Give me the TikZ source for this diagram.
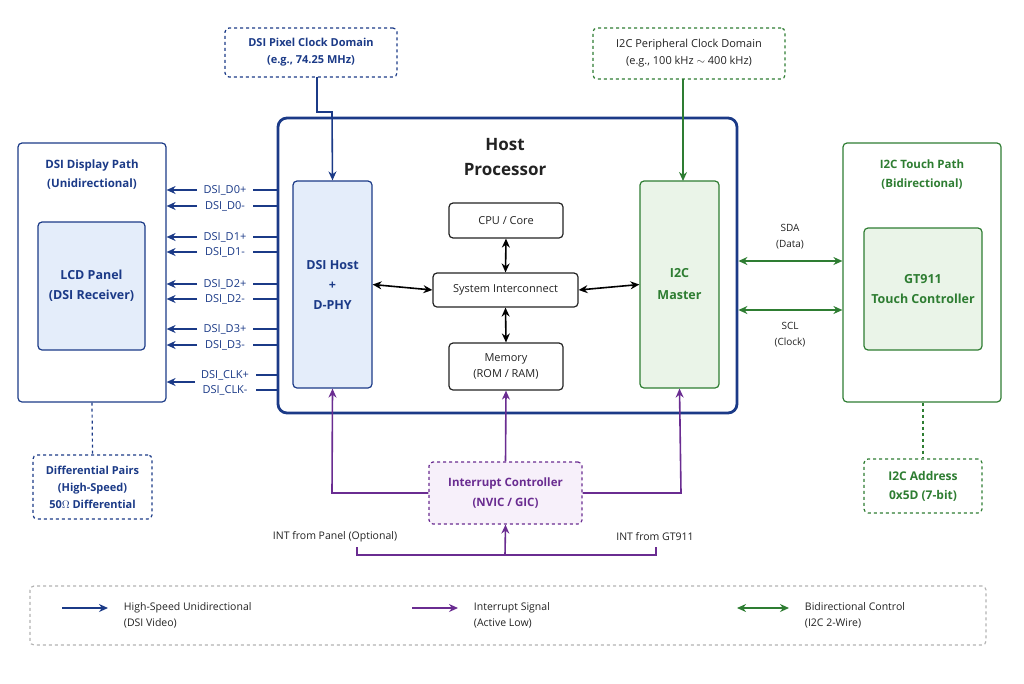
\documentclass[tikz,border=0pt]{standalone}
\usepackage{fontspec}
\setmainfont{Open Sans}
\usetikzlibrary{arrows.meta}
\definecolor{nv}{HTML}{1B3A87}
\definecolor{bf}{HTML}{E4EDFA}
\definecolor{gr}{HTML}{2E7D32}
\definecolor{gf}{HTML}{EAF4E8}
\definecolor{pu}{HTML}{6A2C91}
\definecolor{pf}{HTML}{F7F0FA}
\definecolor{tx}{HTML}{222222}
\begin{document}
\begin{tikzpicture}[x=1pt,y=-1pt,font=\fontsize{11}{14}\selectfont,line width=1.2pt,
 box/.style={draw,rounded corners=4pt,align=center,inner sep=0pt},
 bx/.style 2 args={box,minimum width=#1,minimum height=#2},
 arr/.style={-{Stealth[length=9pt,width=8pt]},line width=1.6pt},
 darr/.style={{Stealth[length=9pt,width=8pt]}-{Stealth[length=9pt,width=8pt]},line width=1.6pt}]
\useasboundingbox (0,0) rectangle (1024,683);
% host
\node[bx={459}{295},draw=nv,line width=2.8pt,rounded corners=9pt] (host) at (507.5,265.5) {};
\node[font=\fontsize{17}{25}\selectfont\bfseries,align=center,text=tx] (ht) at (505,157) {Host\\Processor};
\node[bx={79}{207},draw=nv,fill=bf,text=nv,font=\fontsize{12.5}{20}\selectfont\bfseries] (dsi) at (332.5,284.5) {DSI Host\\+\\D-PHY};
\node[bx={114}{35},draw=tx,text=tx] (cpu) at (506,220.5) {CPU / Core};
\node[bx={145}{34},draw=tx,text=tx] (ic) at (505.5,290) {System Interconnect};
\node[bx={114}{47},draw=tx,text=tx,font=\fontsize{11}{16}\selectfont] (mem) at (506,366.5) {Memory\\(ROM / RAM)};
\node[bx={79}{207},draw=gr,fill=gf,text=gr,font=\fontsize{12.5}{22}\selectfont\bfseries] (i2c) at (679.5,284.5) {I2C\\Master};
% clock domains
\node[bx={172}{49},draw=nv,dashed,text=nv,font=\fontsize{11}{17}\selectfont] (dck) at (311,52.5) {\textbf{DSI Pixel Clock Domain}\\\textbf{(e.g., 74.25 MHz)}};
\node[bx={192}{51},draw=gr,dashed,text=tx,font=\fontsize{11}{17}\selectfont] (ick) at (689,53.5) {I2C Peripheral Clock Domain\\(e.g., 100 kHz $\sim$ 400 kHz)};
\draw[arr,nv] (317,77) -- (317,112) -- (332,112) -- (dsi.north);
\draw[arr,gr] (683,79) -- (683,181);
% side paths
\node[bx={148}{259},draw=nv] (disp) at (92,272.5) {};
\node[text=nv,font=\fontsize{11.5}{19}\selectfont\bfseries,align=center] at (92,175) {DSI Display Path\\(Unidirectional)};
\node[bx={107}{128},draw=nv,fill=bf,text=nv,font=\fontsize{12.5}{20}\selectfont\bfseries] (lcd) at (91.5,286) {LCD Panel\\(DSI Receiver)};
\node[bx={158}{259},draw=gr] (touch) at (922,272.5) {};
\node[text=gr,font=\fontsize{11.5}{19}\selectfont\bfseries,align=center] at (922,175) {I2C Touch Path\\(Bidirectional)};
\node[bx={118}{122},draw=gr,fill=gf,text=gr,font=\fontsize{12.5}{20}\selectfont\bfseries] (gt) at (923,289) {GT911\\Touch Controller};
\node[bx={119}{64},draw=nv,dashed,text=nv,font=\fontsize{11}{17}\selectfont\bfseries] (dp) at (92.5,487) {Differential Pairs\\(High-Speed)\\50$\Omega$ Differential};
\draw[nv,dashed] (disp.south) -- (dp.north);
\node[bx={118}{54},draw=gr,dashed,text=gr,font=\fontsize{12}{19}\selectfont\bfseries] (addr) at (923,486) {I2C Address\\0x5D (7-bit)};
\draw[gr,dashed] (touch.south -| addr.north) -- (addr.north);
% lanes
\foreach \y/\t in {190/D0+,206/D0-,237/D1+,252/D1-,284/D2+,299/D2-,329/D3+,345/D3-}{
 \node[text=nv,anchor=center,inner sep=1pt] (l\t) at (225,\y) {DSI\_\t};
 \draw[nv,line width=1.4pt] (host.west |- 0,\y) -- (253,\y);
 \draw[arr,nv] (197,\y) -- (disp.east |- 0,\y);
}
\node[text=nv,inner sep=1pt] (lcp) at (225,375) {DSI\_CLK+};
\node[text=nv,inner sep=1pt] (lcm) at (225,390) {DSI\_CLK-};
\draw[nv,line width=1.4pt] (host.west |- 0,375) -- (256,375);
\draw[nv,line width=1.4pt] (host.west |- 0,390) -- (256,390);
\draw[arr,nv] (195,382) -- (disp.east |- 0,382);
% internal arrows
\draw[darr] (dsi.east) -- (ic.west);
\draw[darr] (ic.east) -- (i2c.west);
\draw[darr] (cpu.south) -- (ic.north);
\draw[darr] (ic.south) -- (mem.north);
% I2C bus
\draw[darr,gr] (host.east |- 0,261) -- (touch.west |- 0,261);
\draw[darr,gr] (host.east |- 0,310) -- (touch.west |- 0,310);
\node[text=tx,align=center,font=\fontsize{10}{16}\selectfont] at (790,237) {SDA\\(Data)};
\node[text=tx,align=center,font=\fontsize{10}{16}\selectfont] at (790,335) {SCL\\(Clock)};
% interrupts
\node[bx={153}{62},draw=pu,dashed,fill=pf,text=pu,font=\fontsize{11.5}{20}\selectfont\bfseries] (intc) at (505.5,493) {Interrupt Controller\\(NVIC / GIC)};
\draw[arr,pu] (intc.west) -- (332,493) -- (dsi.south);
\draw[arr,pu] (intc.east) -- (681,493) -- (i2c.south);
\draw[arr,pu] (intc.north) -- (mem.south);
\coordinate (bj) at (505,555);
\draw[pu,line width=1.6pt] (357,547) -- (357,555) -- (656,555) -- (656,547);
\draw[arr,pu] (bj) -- (intc.south);
\node[text=tx,font=\fontsize{10.5}{13}\selectfont] at (335,537) {INT from Panel (Optional)};
\node[text=tx,font=\fontsize{10.5}{13}\selectfont] at (655,537) {INT from GT911};
% legend
\node[bx={956}{59},draw=gray!60,dashed] (leg) at (508,615.5) {};
\draw[arr,nv] (62,608) -- (108,608);
\node[anchor=west,align=left,text=tx,font=\fontsize{10.5}{16}\selectfont] at (120,615) {High-Speed Unidirectional\\(DSI Video)};
\draw[arr,pu] (412,608) -- (458,608);
\node[anchor=west,align=left,text=tx,font=\fontsize{10.5}{16}\selectfont] at (470,615) {Interrupt Signal\\(Active Low)};
\draw[darr,gr] (737,608) -- (789,608);
\node[anchor=west,align=left,text=tx,font=\fontsize{10.5}{16}\selectfont] at (801,615) {Bidirectional Control\\(I2C 2-Wire)};
\end{tikzpicture}
\end{document}
